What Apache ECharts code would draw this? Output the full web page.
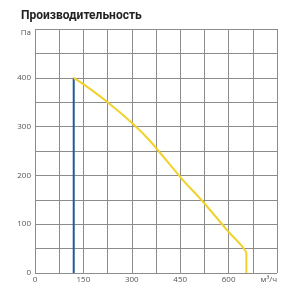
<!DOCTYPE html>
<html><head><meta charset="utf-8">
<script src="https://cdn.jsdelivr.net/npm/echarts@6/dist/echarts.min.js"></script>
<style>html,body{margin:0;padding:0;background:#fff}#c{width:300px;height:300px}</style>
</head><body><div id="c"></div>
<script>
const titleText = "Производительность";
const xUnit = "м³/ч";
const yUnit = "Па";
const limitX = [120, 120];
const limitY = [0, 400];
const curveX = [120, 150, 225, 305, 356, 455, 522, 600, 655, 655];
const curveY = [400, 387, 350, 305, 271, 193, 145, 84, 40, 0];

const chart = echarts.init(document.getElementById('c'), null, {renderer:'canvas'});
const gridColor = '#8c8c8c';
const lblFont = {fontSize: 8, color: '#555', fontFamily: 'Open Sans'};
chart.setOption({
  animation: false,
  title: {text: titleText, left: 16, top: 5, textStyle: {fontSize: 12, fontWeight: 'bold', color: '#222', fontFamily: 'Roboto'}},
  grid: {left: 35, right: 23, top: 29, bottom: 27},
  xAxis: {
    type: 'value', min: 0, max: 750, interval: 75,
    axisLine: {show: false}, axisTick: {show: false},
    splitLine: {show: true, lineStyle: {color: gridColor, width: 1}},
    axisLabel: Object.assign({margin: 3, alignMaxLabel: 'right', formatter: v => v === 750 ? xUnit : (v % 150 === 0 ? String(v) : '')}, lblFont)
  },
  yAxis: {
    type: 'value', min: 0, max: 500, interval: 50,
    axisLine: {show: false}, axisTick: {show: false},
    splitLine: {show: true, lineStyle: {color: gridColor, width: 1}},
    axisLabel: Object.assign({margin: 4, formatter: v => v === 500 ? '{u|' + yUnit + '}' : (v % 100 === 0 ? String(v) : ''),
      rich: {u: {fontSize: 8, color: '#555', fontFamily: 'Open Sans', padding: [8, 0, 0, 0]}}}, lblFont)
  },
  series: [
    {type: 'line', data: limitX.map((x, i) => [x, limitY[i]]), symbol: 'none', lineStyle: {color: '#1d5b9a', width: 2}},
    {type: 'line', data: curveX.map((x, i) => [x, curveY[i]]), symbol: 'none', smooth: 0.2, lineStyle: {color: '#f2d22a', width: 2}}
  ]
});
</script></body></html>
